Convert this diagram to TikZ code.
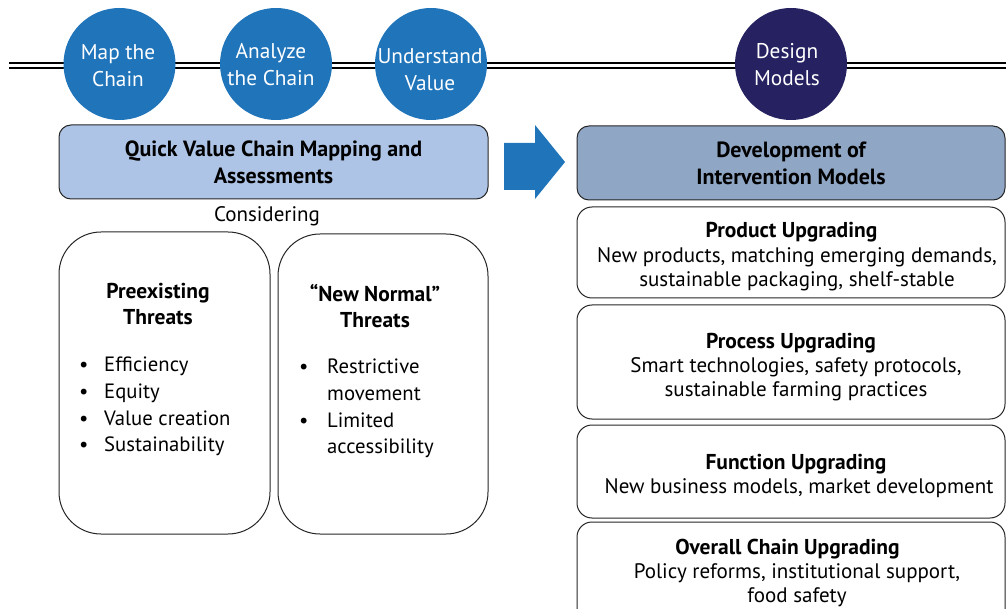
\documentclass[tikz,border=0pt]{standalone}
\usepackage{fontspec}
\setmainfont{PT Sans}
\definecolor{cblue}{RGB}{31,116,186}
\definecolor{cnavy}{RGB}{38,34,98}
\definecolor{qvfill}{RGB}{174,196,230}
\definecolor{devfill}{RGB}{143,166,196}
\begin{document}
\begin{tikzpicture}[x=1pt,y=-1pt,
  circ/.style={circle, minimum size=112pt, inner sep=0pt},
  circtxt/.style={text=white, align=center, inner sep=0pt,
    font=\fontsize{21.3}{27}\selectfont},
  hdrbox/.style={draw=black!85, line width=1pt, rounded corners=12pt, align=center,
    font=\bfseries\fontsize{22}{27}\selectfont, inner sep=0pt},
  threatbox/.style={draw=black!85, line width=1pt, rounded corners=42pt, inner sep=0pt},
  upbox/.style={draw=black!85, line width=1pt, rounded corners=15pt, inner sep=0pt,
    minimum width=428pt},
  body/.style={align=center, font=\fontsize{21}{24}\selectfont, inner sep=0pt},
  ttl/.style={align=center, font=\bfseries\fontsize{21.5}{26}\selectfont, inner sep=0pt},
  lst/.style={align=left, anchor=north west, font=\fontsize{20.7}{26.7}\selectfont, inner sep=0pt}]
\useasboundingbox (0,0) rectangle (1006,609);
\clip (0,0) rectangle (1006,609);
% timeline double line
\coordinate (lineL1) at (9,63);
\coordinate (lineR1) at (1006,63);
\coordinate (lineL2) at (9,68);
\coordinate (lineR2) at (1006,68);
\draw[line width=2pt] (lineL1) -- (lineR1);
\draw[line width=2pt] (lineL2) -- (lineR2);
% circles
\node[circ, fill=cblue] (map) at (119.5,64) {};
\node[circ, fill=cblue] (ana) at (276,64) {};
\node[circ, fill=cblue] (und) at (431,64) {};
\node[circ, fill=cnavy] (des) at (791,64) {};
\node[circtxt] (mapT) at (118,65.5) {Map the\\Chain};
\node[circtxt] (anaT) at (271,64.5) {Analyze\\the Chain};
\node[circtxt] (undT) at (430,69.5) {Understand\\Value};
\node[circtxt] (desT) at (787,65) {Design\\Models};
% left header
\node[hdrbox, fill=qvfill, minimum width=429pt, minimum height=74pt] (qv) at (273.5,162)
  {Quick Value Chain Mapping and\\Assessments};
\node[body] (cons) at (267,216) {Considering};
% threat boxes
\node[threatbox, minimum width=211pt, minimum height=302pt] (pre) at (164.5,383) {};
\node[threatbox, minimum width=210pt, minimum height=300pt] (nn) at (383,384) {};
\node[ttl] (preT) at (158,304) {Preexisting\\Threats};
\node[ttl] (nnT) at (375,306) {``New Normal''\\Threats};
\node[lst] (preL) at (76,357) {\makebox[28pt][l]{\hspace{3pt}\textbullet}Efficiency\\
  \makebox[28pt][l]{\hspace{3pt}\textbullet}Equity\\
  \makebox[28pt][l]{\hspace{3pt}\textbullet}Value creation\\
  \makebox[28pt][l]{\hspace{3pt}\textbullet}Sustainability};
\node[lst] (nnL) at (296,359) {\makebox[31pt][l]{\hspace{3pt}\textbullet}Restrictive\\
  \makebox[31pt][l]{}movement\\
  \makebox[31pt][l]{\hspace{3pt}\textbullet}Limited\\
  \makebox[31pt][l]{}accessibility};
% block arrow
\fill[cblue] (504,143) -- (535,143) -- (535,125) -- (565,162) -- (535,199) -- (535,190) -- (504,190) -- cycle;
% right header
\node[hdrbox, fill=devfill, minimum width=428pt, minimum height=74pt] (dev) at (791,163)
  {Development of\\Intervention Models};
% upgrading boxes
\node[upbox, minimum height=91pt] (prod) at (791,252.5) {};
\node[ttl] (prodT) at (791.5,232) {Product Upgrading};
\node[body] (prodB) at (797,269.5) {New products, matching emerging demands,\\sustainable packaging, shelf-stable};
\node[upbox, minimum height=114pt] (proc) at (791,362) {};
\node[ttl] (procT) at (791,343) {Process Upgrading};
\node[body] (procB) at (796,379) {Smart technologies, safety protocols,\\sustainable farming practices};
\node[upbox, minimum height=93pt] (func) at (791,471.5) {};
\node[ttl] (funcT) at (796,464) {Function Upgrading};
\node[body] (funcB) at (799,488) {New business models, market development};
\node[upbox, minimum height=110pt] (over) at (791,577) {};
\node[ttl] (overT) at (787.5,549) {Overall Chain Upgrading};
\node[body] (overB) at (797,585) {Policy reforms, institutional support,\\food safety};
\end{tikzpicture}
\end{document}
